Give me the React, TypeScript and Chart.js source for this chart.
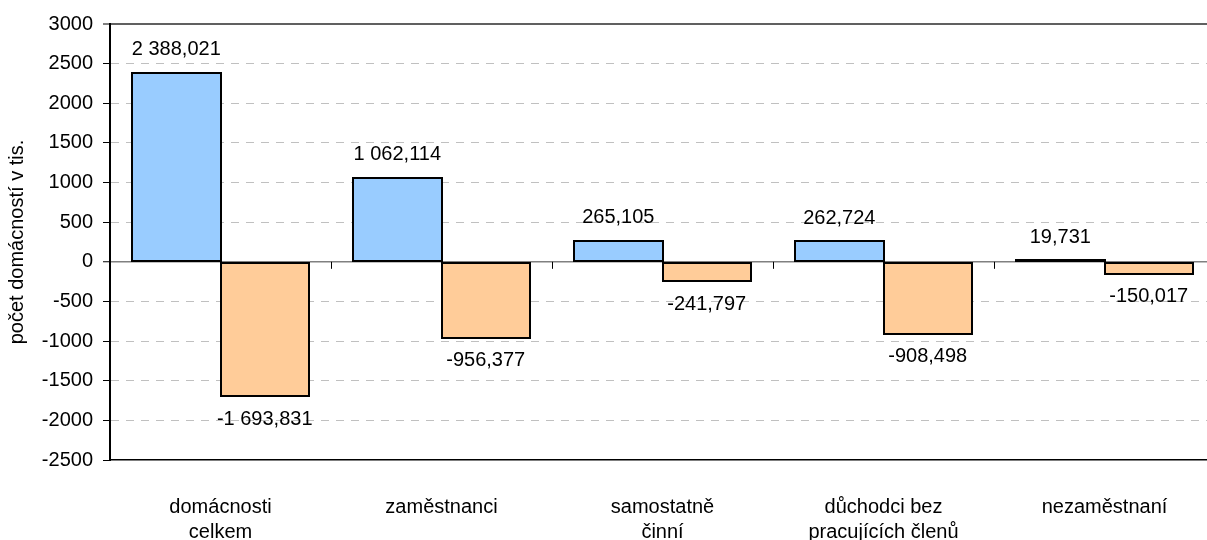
import React, { useEffect, useRef } from "react";
import { Chart, registerables } from "chart.js";

Chart.register(...registerables);

const categories: (string | string[])[] = [
  ["domácnosti", "celkem"],
  "zaměstnanci",
  ["samostatně", "činní"],
  ["důchodci bez", "pracujících členů"],
  "nezaměstnaní",
];
const seriesPositive = [2388.021, 1062.114, 265.105, 262.724, 19.731];
const seriesNegative = [-1693.831, -956.377, -241.797, -908.498, -150.017];
const yMin = -2500;
const yMax = 3000;
const yStep = 500;
const yTitle = "počet domácností v tis.";

const FONT = "'Liberation Sans', Arial, sans-serif";

function fmt(v: number): string {
  const neg = v < 0;
  const [ip, dp] = Math.abs(v).toFixed(3).split(".");
  const grouped = ip.replace(/\B(?=(\d{3})+(?!\d))/g, " ");
  return (neg ? "-" : "") + grouped + "," + dp;
}

const barOutline = {
  id: "barOutline",
  afterDatasetsDraw(chart: any) {
    const ctx = chart.ctx;
    ctx.save();
    ctx.strokeStyle = "#000";
    ctx.lineWidth = 2;
    chart.data.datasets.forEach((_ds: any, di: number) => {
      const meta = chart.getDatasetMeta(di);
      meta.data.forEach((el: any) => {
        const l = Math.round(el.x - el.width / 2);
        const r = Math.round(el.x + el.width / 2);
        const t = Math.round(Math.min(el.y, el.base));
        const b = Math.round(Math.max(el.y, el.base));
        ctx.strokeRect(l, t, r - l, Math.max(b - t, 1));
      });
    });
    ctx.restore();
  },
};

const valueLabels = {
  id: "valueLabels",
  afterDatasetsDraw(chart: any) {
    const ctx = chart.ctx;
    ctx.save();
    ctx.font = `20px ${FONT}`;
    ctx.fillStyle = "#000";
    ctx.textAlign = "center";
    ctx.textBaseline = "middle";
    chart.data.datasets.forEach((ds: any, di: number) => {
      const meta = chart.getDatasetMeta(di);
      meta.data.forEach((el: any, i: number) => {
        const v = ds.data[i] as number;
        const y = v >= 0 ? el.y - 23 : el.y + 23;
        ctx.fillText(fmt(v), el.x, y);
      });
    });
    ctx.restore();
  },
};

const categoryTicks = {
  id: "categoryTicks",
  afterDatasetsDraw(chart: any) {
    const xs = chart.scales.x;
    const ys = chart.scales.y;
    const ctx = chart.ctx;
    const y0 = ys.getPixelForValue(0);
    const n = chart.data.labels.length;
    const step = xs.getPixelForValue(1) - xs.getPixelForValue(0);
    const start = xs.getPixelForValue(0) - step / 2;
    ctx.save();
    ctx.strokeStyle = "#000";
    ctx.lineWidth = 1;
    for (let i = 1; i <= n; i++) {
      const px = Math.round(start + i * step) + 0.5;
      ctx.beginPath();
      ctx.moveTo(px, y0);
      ctx.lineTo(px, y0 + 7);
      ctx.stroke();
    }
    ctx.restore();
  },
};

export default function App() {
  const ref = useRef<HTMLCanvasElement | null>(null);

  useEffect(() => {
    if (!ref.current) return;
    Chart.defaults.font.family = FONT;
    Chart.defaults.font.size = 20;
    Chart.defaults.color = "#000";
    const chart = new Chart(ref.current, {
      type: "bar",
      data: {
        labels: categories as any,
        datasets: [
          {
            data: seriesPositive,
            backgroundColor: "#99CCFF",
            borderWidth: 0,
          },
          {
            data: seriesNegative,
            backgroundColor: "#FFCC99",
            borderWidth: 0,
          },
        ],
      },
      options: {
        animation: false,
        responsive: false,
        layout: { padding: { top: 24, right: 7, bottom: 0, left: 0 } },
        plugins: { legend: { display: false }, tooltip: { enabled: false } },
        datasets: { bar: { categoryPercentage: 0.8, barPercentage: 1.0 } },
        scales: {
          x: {
            type: "category",
            grid: { display: false, drawTicks: false },
            border: { display: true, color: "#000", width: 1.5 },
            ticks: {
              autoSkip: false,
              maxRotation: 0,
              minRotation: 0,
              padding: 35,
              color: "#000",
              font: { size: 20, lineHeight: 1.25 },
            },
            afterFit: (s: any) => {
              s.height = 100;
            },
          },
          y: {
            min: yMin,
            max: yMax,
            ticks: {
              stepSize: yStep,
              padding: 10,
              color: "#000",
              font: { size: 20 },
              callback: (v: any) => String(v),
            },
            grid: {
              tickLength: 7,
              tickColor: "#000",
              tickWidth: 1,
              tickBorderDash: [],
              color: (c: any) => {
                const v = c.tick?.value;
                if (v === 0) return "#808080";
                if (v === yMax) return "#606060";
                if (v === yMin) return "rgba(0,0,0,0)";
                return "#c0c0c0";
              },
              lineWidth: (c: any) => {
                const v = c.tick?.value;
                if (v === 0) return 1.5;
                if (v === yMax) return 2;
                return 1;
              },
            },
            border: {
              display: true,
              color: "#000",
              width: 2,
              dash: (c: any) => {
                const v = c.tick?.value;
                if (v === undefined || v === 0 || v === yMax || v === yMin) return [];
                return [8, 7];
              },
            },
            title: {
              display: true,
              text: yTitle,
              color: "#000",
              font: { size: 20, lineHeight: 1.2 },
              padding: { top: 5, bottom: 0 },
            },
            afterFit: (s: any) => {
              s.width = 110;
            },
          },
        },
      },
      plugins: [categoryTicks, barOutline, valueLabels],
    } as any);
    return () => chart.destroy();
  }, []);

  return (
    <div
      style={{
        position: "fixed",
        left: 0,
        top: 0,
        width: 1207,
        height: 540,
        overflow: "hidden",
        background: "#fff",
      }}
    >
      <canvas
        ref={ref}
        width={1222}
        height={560}
        style={{ width: 1222, height: 560, display: "block" }}
      />
    </div>
  );
}
